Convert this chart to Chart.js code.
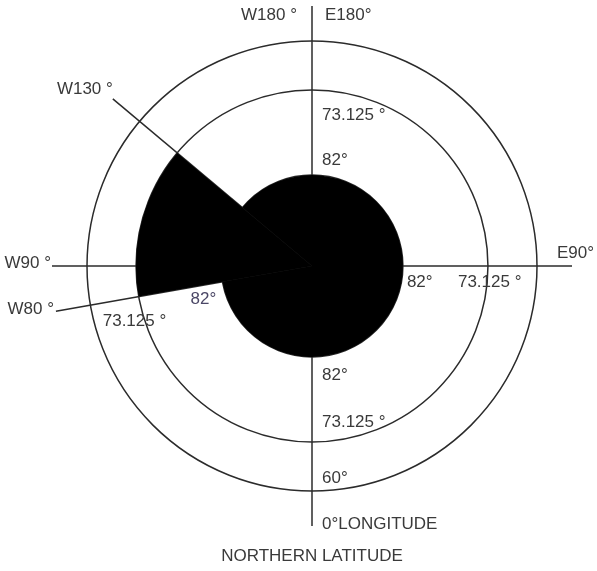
<!DOCTYPE html>
<html><head><meta charset="utf-8">
<script src="https://cdn.jsdelivr.net/npm/chart.js@4/dist/chart.umd.min.js"></script>
<style>html,body{margin:0;padding:0;background:#fff}canvas{display:block}</style>
</head><body>
<canvas id="c" width="597" height="571"></canvas>
<script>
// ---- data ----
const sectorNames   = ['W80°–W130°', 'W130°–W80°'];
const sectorFromLon = [-80, -130];     // east positive, west negative
const sectorToLon   = [-130, -80];
const sectorLat     = [73.125, 82];    // latitude reached by each sector
const ringLat       = [82, 73.125, 60];
const ringText      = ['82°', '73.125 °', '60°'];
const meridianLon   = [0, 90, 180, -90, -130, -80];
const meridianLabelLon  = [0, 90, 180, -180, -90, -130, -80];
const meridianLabelText = ['0°LONGITUDE', 'E90°', 'E180°', 'W180 °', 'W90 °', 'W130 °', 'W80 °'];
const titleText = 'NORTHERN LATITUDE';

// ---- projection: latitude -> fraction of radius (piecewise through the rings) ----
const projLat  = [90, 82, 73.125, 60];
const projFrac = [0, 0.404, 0.782, 1];
function latToFrac(lat) {
  for (let i = 1; i < projLat.length; i++) {
    if (lat >= projLat[i]) {
      const t = (projLat[i - 1] - lat) / (projLat[i - 1] - projLat[i]);
      return projFrac[i - 1] + t * (projFrac[i] - projFrac[i - 1]);
    }
  }
  return 1;
}
class LatitudeScale extends Chart.RadialLinearScale {
  static id = 'latRadial';
  getDistanceFromCenterForValue(v) {
    if (v === null || v === undefined) return NaN;
    return this.drawingArea * latToFrac(v);
  }
}
Chart.register(LatitudeScale);

const chartAngle = lon => 180 - lon; // degrees clockwise from top
const sweep = (a, b) => (((chartAngle(b) - chartAngle(a)) % 360) + 360) % 360;
const sectorAngles = sectorFromLon.map((f, i) => sweep(f, sectorToLon[i]));

// ---- label layout (styling) ----
const textColor = '#3a3a3a';
const lineColor = '#2b2b2b';
const font = '17px "Liberation Sans", Arial, sans-serif';
const meridianLabelPlace = [
  {dx: 10, dy: -2, align: 'left'},
  {dx: -15, dy: -13, align: 'left'},
  {dx: 13, dy: 9, align: 'left'},
  {dx: -15, dy: 9, align: 'right'},
  {dx: -1, dy: -3, align: 'right'},
  {dx: 0, dy: -10, align: 'right'},
  {dx: -2, dy: -2, align: 'right'}
];
const ringLabelPlace = [
  {lon: 180, ring: 1, dx: 10, dy: 25},
  {lon: 180, ring: 0, dx: 10, dy: -15},
  {lon: 90, ring: 0, dx: 4, dy: 16},
  {lon: 90, ring: 1, dx: -30, dy: 16},
  {lon: 0, ring: 0, dx: 10, dy: 18},
  {lon: 0, ring: 1, dx: 10, dy: -20},
  {lon: 0, ring: 2, dx: 10, dy: -13},
  {lon: -80, ring: 0, dx: -32, dy: 18, color: '#4b4766'},
  {lon: -80, ring: 1, dx: -36, dy: 25}
];

function pos(scale, lon, r) {
  const a = (chartAngle(lon) - 90) * Math.PI / 180;
  return {x: scale.xCenter + Math.cos(a) * r, y: scale.yCenter + Math.sin(a) * r};
}

const overlay = {
  id: 'overlay',
  beforeDatasetsDraw(chart) {
    const s = chart.scales.r, ctx = chart.ctx;
    const L = s.drawingArea + 35;
    ctx.save();
    ctx.strokeStyle = lineColor;
    ctx.lineWidth = 1.5;
    meridianLon.forEach(lon => {
      const p = pos(s, lon, L);
      ctx.beginPath();
      ctx.moveTo(s.xCenter, s.yCenter);
      ctx.lineTo(p.x, p.y);
      ctx.stroke();
    });
    ctx.restore();
  },
  afterDatasetsDraw(chart) {
    const s = chart.scales.r, ctx = chart.ctx;
    const L = s.drawingArea + 35;
    ctx.save();
    ctx.font = font;
    ctx.textBaseline = 'middle';
    meridianLabelLon.forEach((lon, i) => {
      const p = pos(s, lon, L), o = meridianLabelPlace[i];
      ctx.fillStyle = textColor;
      ctx.textAlign = o.align;
      ctx.fillText(meridianLabelText[i], p.x + o.dx, p.y + o.dy);
    });
    ringLabelPlace.forEach(o => {
      const p = pos(s, o.lon, s.getDistanceFromCenterForValue(ringLat[o.ring]));
      ctx.fillStyle = o.color || textColor;
      ctx.textAlign = 'left';
      ctx.fillText(ringText[o.ring], p.x + o.dx, p.y + o.dy);
    });
    ctx.restore();
  }
};

new Chart(document.getElementById('c'), {
  type: 'polarArea',
  data: {
    labels: sectorNames,
    datasets: [{
      data: sectorLat,
      angle: ctx => sectorAngles[ctx.dataIndex],
      backgroundColor: '#000',
      borderWidth: 0
    }]
  },
  options: {
    responsive: false,
    devicePixelRatio: 1,
    animation: false,
    events: [],
    layout: {padding: {left: 87, right: 60, top: 41, bottom: 0}},
    scales: {
      r: {
        type: 'latRadial',
        min: 60, max: 90,
        beginAtZero: false,
        startAngle: chartAngle(sectorFromLon[0]),
        afterBuildTicks: sc => { sc.ticks = [90].concat(ringLat).map(v => ({value: v})); },
        ticks: {display: false},
        grid: {color: lineColor, lineWidth: 1.5, circular: true},
        angleLines: {display: false},
        pointLabels: {display: false}
      }
    },
    plugins: {
      legend: {display: false},
      tooltip: {enabled: false},
      title: {
        display: true, text: titleText, position: 'bottom',
        color: textColor,
        font: {family: '"Liberation Sans", Arial, sans-serif', size: 17, weight: 'normal'},
        padding: {top: 55, bottom: 4.6}
      }
    }
  },
  plugins: [overlay]
});
</script>
</body></html>
